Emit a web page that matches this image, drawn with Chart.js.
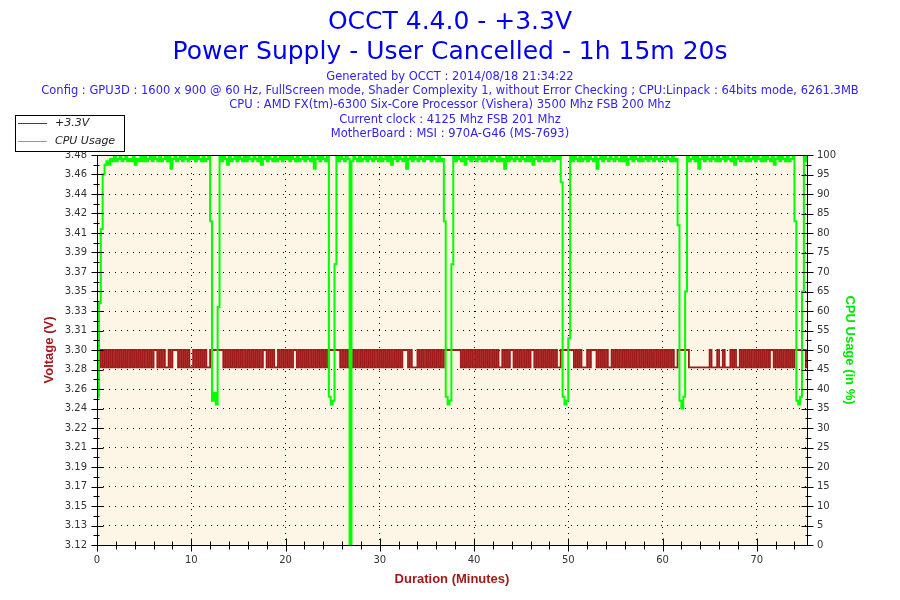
<!DOCTYPE html>
<html lang="en">
<head>
<meta charset="UTF-8">
<title>OCCT 4.4.0 - +3.3V</title>
<script src="https://cdn.jsdelivr.net/npm/chart.js"></script>
<style>
  body { margin: 0; background: #fff; }
  canvas { display: block; }
</style>
</head>
<body>
<canvas id="occtChart" width="900" height="600"></canvas>
<script>
// OCCT logs one point per 0.2 minutes here (12 s), test ran 1h 15m 20s
const sampleStep = 0.2;
const testLength = 75.33;

const titleLines = ['OCCT 4.4.0 - +3.3V', 'Power Supply - User Cancelled - 1h 15m 20s'];
const infoLines = [
  'Generated by OCCT : 2014/08/18 21:34:22',
  'Config : GPU3D : 1600 x 900 @ 60 Hz, FullScreen mode, Shader Complexity 1, without Error Checking ; CPU:Linpack : 64bits mode, 6261.3MB',
  'CPU : AMD FX(tm)-6300 Six-Core Processor (Vishera) 3500 Mhz FSB 200 Mhz',
  'Current clock : 4125 Mhz FSB 201 Mhz',
  'MotherBoard : MSI : 970A-G46 (MS-7693)'
];

const voltTickLabels = ['3.12', '3.13', '3.15', '3.17', '3.19', '3.21', '3.22', '3.24', '3.26', '3.28', '3.30',
  '3.31', '3.33', '3.35', '3.37', '3.39', '3.41', '3.42', '3.44', '3.46', '3.48'];
const voltMin = 3.12, voltMax = 3.48;

// the sensor only reads two levels most of the time
const L = 3.284, H = 3.300;
const voltage = [
  3.316, L,H,L,H,L,H,L,H,L,H,L,H,L,H,L,H,L,H,L,H,L,H,L,H,
  L,H,L,H,L,H,H,L,H,L,H,L,L,H,L,H,H,H,L,H,L,H,L,H,L,
  L,H,L,H,L,H,L,H,L,L, H,H,H,H,H,H, H,L,H,L,H,L,H,L,H,
  L,H,L,H,L,H,L,H,L,H,L,H,L,H,H,L,H,L,H,L,L,H,L,H,L,
  H,L,H,L,H,H,L,H,L,H,L,H,L,H,L,H,L,H,L,H,L,H,L, H,H,
  H,H,H,H, L,H,L,H,L,H,L,H,L,H,L,H,L,H,L,H,L,H,L,H,L,
  H,L,H,L,H,L,H,L,H,L,H,L,H,H,H,L,H,L,L,L,H,L,H,L,H,
  L,H,L,H,L,H,L,H,L, H,H,H,H,H,H, H,H,H, L,H,L,H,L,H,L,
  H,L,H,L,H,L,H,L,H,L,H,L,H,L,L,H,L,H,L,H,H,L,H,L,H,
  L,H,L,H,L,H,H,L,H,L,H,L,H,L,H,L,H,L,H,L,L, H,H,H,H,
  H,H,H, L,H,L,H,L,L,L,H,L,H,H,H,L,H,L,H,L,H,L,L,H,L,
  H,L,H,L,H,L,H,L,H,L,H,L,H,L,H,L,H,L,H,L,H,L,H,L,H,
  L,H,L,H,L,H,L,L, H,H,H,H,H,H, L,L,L,L,L,L,L,L,L,L,L,
  H,L,L,L,H,L,L,H,L,L,L,H,L,H,L,L,H,L,H,L,H,L,H,L,H,
  L,H,L,H,L,H,L,H,H,L,H,L,H,L,H,L,H,L,H,L, H,H,H,H,H,
  H,L,H
];

// Linpack keeps the CPU pinned just under 100 %, with six pauses and one drop to 0
const cpuUsage = [
  38,62,81,95,97.5,98.4,97.5,99,98.4,99.6,98.4,99,99.6,98.4,99,99.6,98.4,99,98.4,99.6,97.5,99,98.4,99.6,98.4,
  99.6,98.4,99,99.6,98.4,99.6,99,98.4,99.6,98.4,99,99.6,98.4,99.6,96.5,99,99.6,98.4,99,99.6,98.4,99.6,99,98.4,99.6,
  99,99.6,98.4,99.6,99,98.4,99.6,98.4,99,99.6, 83,37,39,36,61, 99.6,98.4,99.6,99,97.5,99.6,98.4,99,99.6,98.4,
  99.6,99,98.4,99.6,98.4,99.6,99,98.4,99.6,99,98.4,99.6,97.5,99,99.6,98.4,99.6,99,98.4,99.6,98.4,99,99.6,98.4,99.6,
  99,99.6,98.4,99.6,99,98.4,99.6,98.4,99,99.6,98.4,99.6,99,98.4,99.6,96.5,99,99.6,98.4,99.6,99,98.4, 99.6,38,36,
  37,72, 99.6,98.4,99.6,99,98.4,99.6,99, 0, 98.4,99.6,99,98.4,99.6,98.4,99,99.6,98.4,99.6,99,98.4,99.6,99,98.4,
  99.6,98.4,99,99.6,98.4,99.6,97.5,99,99.6,98.4,99.6,99,98.4,99.6,96.5,99,99.6,98.4,99.6,99,98.4,99.6,99,98.4,99.6,
  99,99.6,98.4,99.6,99,98.4,99.6,98.4,99, 83,38,36,37,72, 99.6,98.4,99.6,99,98.4,99.6,97.5,99,99.6,98.4,99.6,
  99,98.4,99.6,99,98.4,99.6,98.4,99,99.6,98.4,99.6,99,98.4,99.6,98.4,99,96.5,99.6,98.4,99.6,99,98.4,99.6,99,98.4,
  99.6,99,98.4,99.6,98.4,99.6,97.5,99,99.6,98.4,99.6,99,98.4,99.6,98.4,99,99.6,98.4,99.6,99,99.6, 93,38,36,37,
  53, 99.6,98.4,99.6,99,98.4,99.6,98.4,99,99.6,98.4,99.6,99,98.4,99.6,96.5,99,99.6,98.4,99.6,99,98.4,99.6,99,98.4,
  99.6,99,98.4,99.6,98.4,99.6,97.5,99,99.6,98.4,99.6,99,98.4,99.6,98.4,99,99.6,98.4,99.6,99,98.4,99.6,99,98.4,99.6,
  99,98.4,99.6,99,98.4,99.6,98.4,99, 82,37,35,38,65, 99.6,98.4,99,99.6,98.4,99.6,96.5,99,99.6,98.4,99.6,99,
  98.4,99.6,99,98.4,99.6,98.4,99,99.6,98.4,99.6,99,98.4,99.6,97.5,99,99.6,98.4,99.6,99,98.4,99.6,98.4,99,99.6,98.4,
  99.6,99,98.4,99.6,98.4,99.6,99,98.4,99.6,97.5,99,99.6,98.4,99.6,99,98.4,99.6,98.4,99,99.6, 83,37,36,38,65,
  99.6,98.4,99.6
];

const voltColor = '#a11a1a';
const cpuColor = '#00ff00';
const plotBackground = '#fdf5e6';
const tickFont = { family: 'DejaVu Sans', size: 10 };
const axisTitleFont = { family: 'Liberation Sans', size: 13, weight: 'bold' };

// frame, crossing tick marks and the boxed legend OCCT draws
const occtDecor = {
  id: 'occtDecor',
  beforeDraw(chart) {
    const { ctx, chartArea: a } = chart;
    ctx.save();
    ctx.fillStyle = '#fff';
    ctx.fillRect(0, 0, chart.width, chart.height);
    ctx.fillStyle = plotBackground;
    ctx.fillRect(a.left, a.top, a.right - a.left, a.bottom - a.top);
    ctx.restore();
  },
  afterDraw(chart) {
    const { ctx, chartArea: a } = chart;
    const xs = chart.scales.x, yv = chart.scales.yVolt, yc = chart.scales.yCpu;
    const px = v => Math.round(v) + 0.5;
    ctx.save();
    ctx.strokeStyle = '#000';
    ctx.lineWidth = 1;
    ctx.strokeRect(px(a.left), px(a.top), Math.round(a.right - a.left), Math.round(a.bottom - a.top));

    ctx.beginPath();
    [[yv, a.left, -1], [yc, a.right, 1]].forEach(([s, x0, dir]) => {
      const xr = px(x0);
      s.ticks.forEach((t, i) => {
        const y = px(s.getPixelForValue(t.value));
        ctx.moveTo(xr - 6, y); ctx.lineTo(xr + 6, y);
        if (i < s.ticks.length - 1) {
          const ym = px(s.getPixelForValue((t.value + s.ticks[i + 1].value) / 2));
          ctx.moveTo(xr + 4 * dir, ym); ctx.lineTo(xr - 2 * dir, ym);
        }
      });
    });
    const yb = px(a.bottom);
    xs.ticks.forEach(t => {
      const x = px(xs.getPixelForValue(t.value));
      ctx.moveTo(x, yb - 7); ctx.lineTo(x, yb + 6);
    });
    for (let m = 2; m < xs.max; m += 2) {
      if (m % 10 === 0) continue;
      const x = px(xs.getPixelForValue(m));
      ctx.moveTo(x, yb - 4); ctx.lineTo(x, yb + 4);
    }
    ctx.stroke();

    // legend box
    ctx.fillStyle = '#fff';
    ctx.fillRect(15, 115, 109, 36);
    ctx.strokeRect(15.5, 115.5, 109, 36);
    ctx.font = 'italic 11px "DejaVu Sans"';
    ctx.textBaseline = 'middle';
    chart.data.datasets.forEach((ds, i) => {
      const y = 123.5 + i * 18;
      ctx.strokeStyle = ds.borderColor;
      ctx.lineWidth = 1;
      ctx.beginPath();
      ctx.moveTo(18, y); ctx.lineTo(47, y);
      ctx.stroke();
      ctx.fillStyle = '#222';
      ctx.fillText(ds.label, 55, y);
    });
    ctx.restore();
  }
};

new Chart(document.getElementById('occtChart'), {
  type: 'line',
  data: {
    datasets: [
      {
        label: '+3.3V',
        data: voltage.map((v, i) => ({ x: i * sampleStep, y: v })),
        yAxisID: 'yVolt',
        borderColor: voltColor,
        borderWidth: 1.8,
        stepped: true,
        pointRadius: 0,
        order: 1
      },
      {
        label: 'CPU Usage',
        data: cpuUsage.map((v, i) => ({ x: i * sampleStep, y: v })),
        yAxisID: 'yCpu',
        borderColor: cpuColor,
        borderWidth: 2,
        stepped: true,
        pointRadius: 0,
        order: 0
      }
    ]
  },
  options: {
    responsive: false,
    animation: false,
    devicePixelRatio: 1,
    layout: { padding: 0 },
    plugins: {
      legend: { display: false },
      tooltip: { enabled: false },
      title: {
        display: true,
        text: titleLines,
        color: '#0000f0',
        font: { family: 'DejaVu Sans', size: 25, weight: 'normal', lineHeight: 30 / 25 },
        padding: { top: 7, bottom: 3 }
      },
      subtitle: {
        display: true,
        text: infoLines,
        color: '#3322ee',
        font: { family: 'DejaVu Sans', size: 11.5, lineHeight: 14.2 / 11.5 },
        padding: { top: 0, bottom: 14 }
      }
    },
    scales: {
      x: {
        type: 'linear',
        min: 0,
        max: testLength,
        ticks: { stepSize: 10, includeBounds: false, font: tickFont, color: '#333', padding: 9, maxRotation: 0 },
        grid: { color: '#000', drawTicks: false },
        border: { display: false, dash: [1, 5] },
        title: { display: true, text: 'Duration (Minutes)', color: voltColor, font: axisTitleFont, padding: { bottom: 13 } },
        afterFit: s => { s.height = 55; }
      },
      yVolt: {
        position: 'left',
        min: voltMin,
        max: voltMax,
        afterBuildTicks: s => {
          s.ticks = voltTickLabels.map((_, i) => ({ value: voltMin + i * (voltMax - voltMin) / (voltTickLabels.length - 1) }));
        },
        ticks: { callback: (v, i) => voltTickLabels[i], autoSkip: false, font: tickFont, color: '#333', padding: 10 },
        grid: { drawOnChartArea: false, drawTicks: false },
        border: { display: false },
        title: { display: true, text: 'Voltage (V)', color: voltColor, font: axisTitleFont, padding: { top: 42 } },
        afterFit: s => { s.width = 97; }
      },
      yCpu: {
        position: 'right',
        min: 0,
        max: 100,
        ticks: { stepSize: 5, autoSkip: false, font: tickFont, color: '#333', padding: 10 },
        grid: { color: '#000', drawTicks: false },
        border: { display: false, dash: [1, 5] },
        title: { display: true, text: 'CPU Usage (in %)', color: '#00e600', font: axisTitleFont, padding: { top: 43 } },
        afterFit: s => { s.width = 93; }
      }
    }
  },
  plugins: [occtDecor]
});
</script>
</body>
</html>
